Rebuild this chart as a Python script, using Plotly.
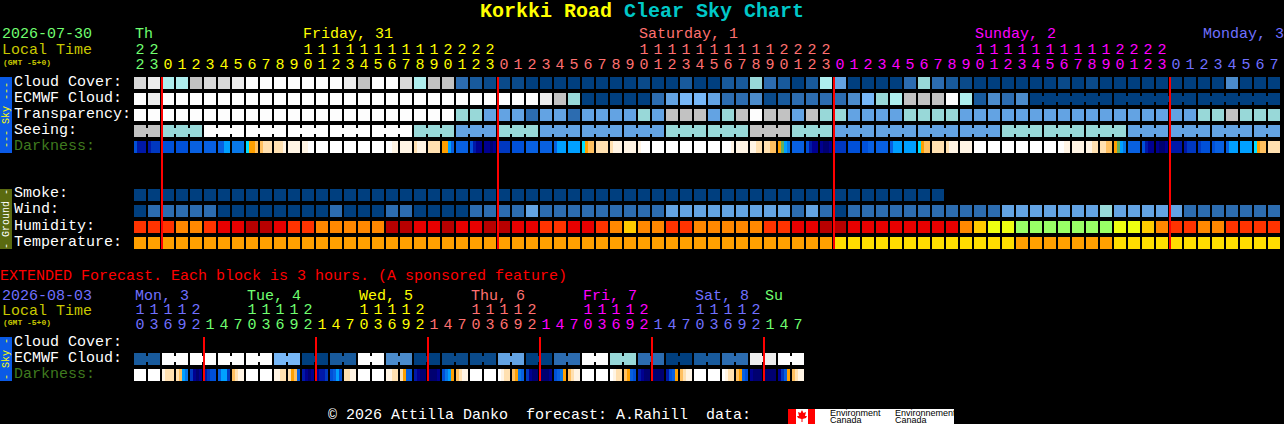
import plotly.graph_objects as go

W, H = 1284, 424
MONO = "Liberation Mono"

# block colours, looked up by letter in the rows below
palette = {
    "A": "#003f7f", "B": "#0a4a8a", "C": "#185a9c", "D": "#2c6cb0", "E": "#4b8bcb",
    "F": "#63a3e3", "G": "#77b7f7", "H": "#98d8d8", "I": "#aeeeee", "J": "#c2c2c2",
    "K": "#d8d8d8", "L": "#ececec", "M": "#fdfdfd",
    "R": "#ff3300", "O": "#ff8800", "S": "#e80000", "T": "#b80000", "Y": "#ffcc00",
    "X": "#eeff11", "Z": "#99ff66", "P": "#ffa000", "Q": "#ffdd00",
}

# darkness levels, 0 = darkest night, 14 = full daylight
dark_colors = ["#000070", "#000090", "#0018a8", "#0038c0", "#0050d8", "#0860e0", "#0878e8",
               "#00a0ff", "#00e0ff", "#60b060", "#ffa000", "#ffc060", "#ffe0b0", "#fff4e4", "#ffffff"]

# hourly rows, one letter per block
cloud_cover = list("KLIIJKKL" "MMMMMMM" "LJMMKIJJ" "DCBBB" "AAAAAAAA"
                   "BAACAACCHDCACIF" "AAAA" "DHDCB" "AAAAAA" "BAB" "AAAAAAAAA" "E" "AAA")
ecmwf_cloud = list("ML" "MMMMMMMMMMMMMMMMMMMMMMMMMMM" "LJH" "AAAAA"
                   "DFGGFDDEBCDDDDEGHIJJJMICEDE" "AAAAAAAAAAAAAAAAAA")
transparency = list("MMMMMMMMMMMMMMMMMMMMMMM" "HHFFFDFFD" "FFFF" "HFJJJFHJMJJFJHH"
                    "FFFF" "HHHH" "FFFFFFFFFFFFFFFFF" "HHJHHH")
seeing = list("JJ" "HHH" "MMMMMMMMMMMMMMM" "HHH" "FFF" "HHH" "FFFFFFFFF" "HHHHHH" "JJJ" "HHH"
              "FFFFFFFFFFFF" "HHHHHHHHH" "FFFFFFFFFFF")
smoke = list("AAAAAAAAAAAAAAAAAAAAAAAAAAAAAAAAAAAAAAAAAAAAAAAAAAAAAAAAAA") + [None] * 24
wind = list("ADDDDD" "AAAAAAAA" "D" "AAA" "DD" "AAAA" "DDDD" "F" "DDDDDDDDD" "FFFFFFFFF" "DFDA"
            "DDDDDDDDDDD" "FFFFFFF" "H" "FFFFF" "DDDDDDD")
humidity = list("RRROORSSTTSRR" "OOOOO" "TTSSTSSTTSSRRSSROYOORR" "OOOOO" "RRSSTT" "SSSSSSSS"
                "OYXX" "ZZZZZZZ" "XXYORROORRRR")
temperature = list("PPPPPPPPPPPPPPPPPPPPPPPPPPPPPPPPPPPPPPPPPPPPPPPPPP" "QQQQQQQQQQQQQ"
                   "PPPPPPP" "QQQQQQQQQQQQ")

# four samples across each block
darkness = [
    [4, 2, 2, 2], [2, 3, 3, 3], [4, 4, 4, 4], [4, 4, 4, 4], [5, 5, 5, 5], [5, 5, 5, 5], [5, 5, 7, 7],
    [6, 6, 6, 6], [8, 10, 10, 11], [11, 12, 12, 12], [12, 12, 12, 13], [13, 13, 13, 13], [13, 13, 14, 14],
    [14, 14, 14, 14], [14, 14, 14, 14], [14, 14, 14, 14], [14, 14, 14, 14], [14, 14, 14, 14], [14, 14, 13, 13],
    [13, 13, 13, 13], [12, 13, 13, 13], [12, 12, 12, 12], [10, 10, 7, 5], [5, 5, 5, 5], [4, 2, 1, 1],
    [1, 1, 0, 1], [3, 3, 3, 3], [4, 4, 4, 4], [5, 5, 5, 5], [5, 5, 5, 5], [5, 7, 7, 7], [7, 7, 7, 7],
    [8, 10, 11, 11], [12, 12, 12, 12], [12, 13, 13, 13], [13, 13, 13, 13], [13, 14, 14, 14], [14, 14, 14, 14],
    [14, 14, 14, 14], [14, 14, 14, 14], [14, 14, 14, 14], [14, 14, 14, 14], [14, 14, 14, 13], [13, 13, 13, 13],
    [13, 13, 12, 12], [12, 12, 11, 11], [10, 9, 7, 6], [5, 5, 5, 5], [4, 2, 1, 1], [1, 0, 0, 1], [3, 3, 3, 3],
    [4, 4, 4, 4], [4, 4, 5, 5], [5, 5, 5, 5], [5, 7, 7, 7], [7, 7, 7, 7], [8, 10, 11, 11], [12, 12, 12, 12],
    [12, 13, 13, 13], [13, 13, 13, 13], [14, 14, 14, 14], [14, 14, 14, 14], [14, 14, 14, 14], [14, 14, 14, 14],
    [14, 14, 14, 14], [14, 14, 14, 14], [14, 14, 13, 13], [13, 13, 13, 13], [13, 13, 12, 12], [12, 12, 11, 11],
    [10, 9, 7, 6], [5, 5, 5, 5], [4, 2, 1, 1], [1, 0, 0, 1], [2, 2, 2, 2], [2, 3, 3, 3], [3, 4, 4, 4],
    [4, 5, 5, 5], [5, 7, 7, 7], [7, 7, 7, 7], [8, 10, 11, 11], [12, 12, 12, 12],
]

# extended forecast, 3 hour blocks
ext_ecmwf = list("CCMMMMMMMMGGAACCMMEEAABBBBFFAADDMMHHDDAACCDDLLMM")
ext_darkness = [
    [14, 14, 14, 14], [14, 14, 14, 14], [13, 12, 12, 12], [12, 11, 7, 6], [3, 1, 0, 1], [2, 3, 4, 4],
    [5, 7, 7, 3], [11, 12, 13, 13], [14, 14, 14, 14], [14, 14, 14, 14], [13, 13, 12, 12], [12, 10, 11, 5],
    [2, 1, 0, 1], [1, 2, 2, 3], [4, 5, 7, 4], [12, 12, 13, 13], [14, 14, 14, 14], [14, 14, 14, 14],
    [13, 13, 12, 12], [12, 10, 5, 5], [2, 1, 0, 0], [0, 0, 0, 1], [4, 6, 7, 10], [11, 12, 13, 13],
    [14, 14, 14, 14], [14, 14, 14, 14], [14, 13, 12, 12], [11, 10, 6, 5], [3, 1, 0, 0], [0, 0, 0, 1],
    [4, 5, 6, 10], [11, 12, 13, 13], [14, 14, 14, 14], [14, 14, 14, 14], [14, 13, 12, 12], [11, 10, 5, 4],
    [2, 1, 0, 0], [0, 0, 0, 0], [2, 4, 5, 10], [11, 12, 13, 13], [14, 14, 14, 14], [14, 14, 14, 14],
    [14, 13, 12, 12], [11, 10, 5, 4], [1, 0, 0, 0], [0, 0, 0, 0], [1, 3, 5, 10], [11, 12, 13, 13],
]

hours = [22, 23] + list(range(24)) * 3 + list(range(8))
ext_hours = [10, 13, 16, 19, 22, 1, 4, 7] * 6

GREEN, YELLOW, SALMON, MAGENTA, BLUE = "#70ff70", "#ffff00", "#ff7070", "#ff00ff", "#7070ff"
day_colors = [GREEN, YELLOW, SALMON, MAGENTA, BLUE]
ext_day_colors = [BLUE, GREEN, YELLOW, SALMON, MAGENTA, BLUE, GREEN]
day_names = ["Th", "Friday, 31", "Saturday, 1", "Sunday, 2", "Monday, 3"]
day_starts = [0, 12, 36, 60, 76.35]
ext_day_names = ["Mon, 3", "Tue, 4", "Wed, 5", "Thu, 6", "Fri, 7", "Sat, 8", "Su"]
ext_day_starts = [0, 8, 16, 24, 32, 40, 45]

main_labels = ["Cloud Cover:", "ECMWF Cloud:", "Transparency:", "Seeing:", "Darkness:"]
ground_labels = ["Smoke:", "Wind:", "Humidity:", "Temperature:"]
ext_labels = ["Cloud Cover:", "ECMWF Cloud:", "Darkness:"]

# rows sit on a 16 px pitch, blocks on a 14 px pitch
XR = [-140 / 14, (W - 140) / 14]
YR = [(H - 83) / 16, -83 / 16]


def px(x, y):
    return x / W, 1 - y / H


def note(text, x, y, color, size=15, bold=False, angle=0, xanchor="left"):
    fx, fy = px(x, y)
    fig.add_annotation(text=f"<b>{text}</b>" if bold else text, x=fx, y=fy, xref="paper", yref="paper",
                       showarrow=False, xanchor=xanchor, yanchor="middle", textangle=angle, borderpad=0,
                       font=dict(family=MONO, size=size, color=color))


def box(x0, y0, x1, y1, color):
    a, b = px(x0, y0)
    c, d = px(x1, y1)
    fig.add_shape(type="rect", x0=a, y0=b, x1=c, y1=d, xref="paper", yref="paper",
                  fillcolor=color, line_width=0, layer="below")


codes = {k: n for n, k in enumerate(palette)}
n_codes = len(codes)
block_scale = []
for k, n in codes.items():
    block_scale += [[n / n_codes, palette[k]], [(n + 1) / n_codes, palette[k]]]
dark_scale = [[n / (len(dark_colors) - 1), c] for n, c in enumerate(dark_colors)]


def to_codes(row):
    return [None if v is None else codes[v] for v in row]


blank = [None] * len(hours)
fig = go.Figure()

# hourly blocks
main_rows = [cloud_cover, ecmwf_cloud, transparency, seeing, blank, blank, blank, smoke, wind, humidity, temperature]
fig.add_trace(go.Heatmap(z=[to_codes(r) for r in main_rows], x=list(range(len(hours))), y=list(range(11)),
                         xgap=2, ygap=4, zmin=-0.5, zmax=n_codes - 0.5, colorscale=block_scale,
                         showscale=False, hoverinfo="skip"))
fig.add_trace(go.Heatmap(z=[to_codes([None] * 48), to_codes(ext_ecmwf)], x=list(range(48)), y=[16.25, 17.25],
                         xgap=2, ygap=4, zmin=-0.5, zmax=n_codes - 0.5, colorscale=block_scale,
                         showscale=False, hoverinfo="skip"))


# darkness strips: fine columns inside each block, empty column for the gap
def dark_strip(samples, row):
    xs, zs = [], []
    for i, block in enumerate(samples):
        for k, v in enumerate(block):
            xs.append(i - 6 / 14 + k * 3 / 14)
            zs.append(v)
        xs.append(i + 6 / 14)
        zs.append(None)
    xs.append(len(samples) - 6 / 14)
    fig.add_trace(go.Heatmap(z=[zs], x=xs, y=[row - 0.375, row + 0.375], zmin=0, zmax=len(dark_colors) - 1,
                             colorscale=dark_scale, showscale=False, hoverinfo="skip"))


dark_strip(darkness, 4)
dark_strip(ext_darkness, 18.25)


# little bridges that join the blocks of one forecast step
def bridges(row, y, joined):
    by_color = {}
    for i in range(len(row) - 1):
        if joined(i) and row[i] == row[i + 1]:
            by_color.setdefault(row[i], []).append(i)
    for k, idx in by_color.items():
        xs, ys = [], []
        for i in idx:
            xs += [i + 0.3, i + 0.7, None]
            ys += [y, y, None]
        fig.add_trace(go.Scatter(x=xs, y=ys, mode="lines", line=dict(color=palette[k], width=6),
                                 hoverinfo="skip", showlegend=False))


bridges(seeing, 3, lambda i: i % 3 != 1)
bridges(ecmwf_cloud, 1, lambda i: i >= 64 and (i - 64) % 6 != 5)
bridges(ext_ecmwf, 17.25, lambda i: i % 2 == 0)


# midnight lines
def midnight(hrs, y0, y1):
    xs, ys = [], []
    for i in range(1, len(hrs)):
        if hrs[i] < hrs[i - 1]:
            x = i - 0.5 + 1 / 14
            xs += [x, x, None]
            ys += [y0, y1, None]
    fig.add_trace(go.Scatter(x=xs, y=ys, mode="lines", line=dict(color="#ff0000", width=2),
                             hoverinfo="skip", showlegend=False))


midnight(hours, -0.375, 10.375)
midnight(ext_hours, 15.875, 18.625)


# hour digits, coloured by day
def hour_digits(hrs, colors, y_tens, y_ones):
    day = 0
    tcol = []
    for i, h in enumerate(hrs):
        if i and h < hrs[i - 1]:
            day += 1
        tcol.append(colors[day])
    x = list(range(len(hrs)))
    fig.add_trace(go.Scatter(x=x, y=[y_ones] * len(hrs), mode="text", text=[str(h % 10) for h in hrs],
                             textposition="middle center", hoverinfo="skip", showlegend=False,
                             textfont=dict(family=MONO, size=15, color=tcol)))
    fig.add_trace(go.Scatter(x=x, y=[y_tens] * len(hrs), mode="text",
                             text=[str(h // 10) if h >= 10 else "" for h in hrs],
                             textposition="middle center", hoverinfo="skip", showlegend=False,
                             textfont=dict(family=MONO, size=15, color=tcol)))


hour_digits(hours, day_colors, (50 - 83) / 16, (65 - 83) / 16)
hour_digits(ext_hours, ext_day_colors, (310 - 83) / 16, (325 - 83) / 16)

# title and headers
note("Korkki Road", 479, 12, "#ffff00", size=20, bold=True)
note("Clear Sky Chart", 623, 12, "#00c8c8", size=20, bold=True)
note("2026-07-30", 1, 35, GREEN)
note("Local Time", 1, 50, "#c8c800")
note("(GMT -5+0)", 2, 62, "#c8c800", size=8, bold=True)
for name, start, c in zip(day_names, day_starts, day_colors):
    note(name, 133.5 + 14 * start, 35, c)

for i, t in enumerate(main_labels):
    note(t, 13, 82 + 16 * i, "#3f7a1f" if t == "Darkness:" else "#ffffff")
for i, t in enumerate(ground_labels):
    note(t, 13, 194 + 16 * i, "#ffffff")

note("EXTENDED Forecast. Each block is 3 hours. (A sponsored feature)", -1, 276, "#ff0000")
note("2026-08-03", 1, 296, BLUE)
note("Local Time", 1, 311, "#c8c800")
note("(GMT -5+0)", 2, 322, "#c8c800", size=8, bold=True)
for name, start, c in zip(ext_day_names, ext_day_starts, ext_day_colors):
    note(name, 133.5 + 14 * start, 296, c)
for i, t in enumerate(ext_labels):
    note(t, 13, 342 + 16 * i, "#3f7a1f" if t == "Darkness:" else "#ffffff")

# side tabs
box(0, 77, 12, 153, "#0a5ae6")
box(0, 189, 12, 249, "#5a6a10")
box(0, 337, 12, 381, "#0a5ae6")
note("--- Sky ---", 6, 115, "#ffff00", size=10, angle=-90, xanchor="center")
note("- Ground -", 6, 219, "#ffffff", size=10, angle=-90, xanchor="center")
note("- Sky -", 6, 359, "#ffff00", size=10, angle=-90, xanchor="center")

# footer and logo
note("\u00a9 2026 Attilla Danko  forecast: A.Rahill  data:", 327, 415, "#ffffff")
box(788, 409, 954, 424, "#ffffff")
box(788, 409, 796, 424, "#ff0000")
box(808, 409, 815, 424, "#ff0000")
leaf = [(802, 410), (803.5, 413), (806, 412), (805, 416), (807, 416), (806, 418), (802.5, 419), (802.5, 422),
        (801.5, 422), (801.5, 419), (798, 418), (797, 416), (799, 416), (798, 412), (800.5, 413)]
path = "M " + " L ".join(f"{px(*p)[0]:.5f},{px(*p)[1]:.5f}" for p in leaf) + " Z"
fig.add_shape(type="path", path=path, xref="paper", yref="paper", fillcolor="#ff0000", line_width=0)
for t, x, y in [("Environment", 829, 413), ("Canada", 829, 420), ("Environnement", 894, 413), ("Canada", 894, 420)]:
    fig.add_annotation(text=t, x=px(x, y)[0], y=px(x, y)[1], xref="paper", yref="paper", showarrow=False,
                       xanchor="left", yanchor="middle", borderpad=0,
                       font=dict(family="Liberation Sans", size=9, color="#000000"))

fig.update_layout(width=W, height=H, margin=dict(l=0, r=0, t=0, b=0), paper_bgcolor="#000000",
                  plot_bgcolor="#000000", showlegend=False, hovermode=False,
                  xaxis=dict(range=XR, visible=False, fixedrange=True),
                  yaxis=dict(range=YR, visible=False, fixedrange=True))

fig.write_html("out.html", config={"displayModeBar": False},
               post_script="document.body.style.margin='0';document.body.style.overflow='hidden';")
